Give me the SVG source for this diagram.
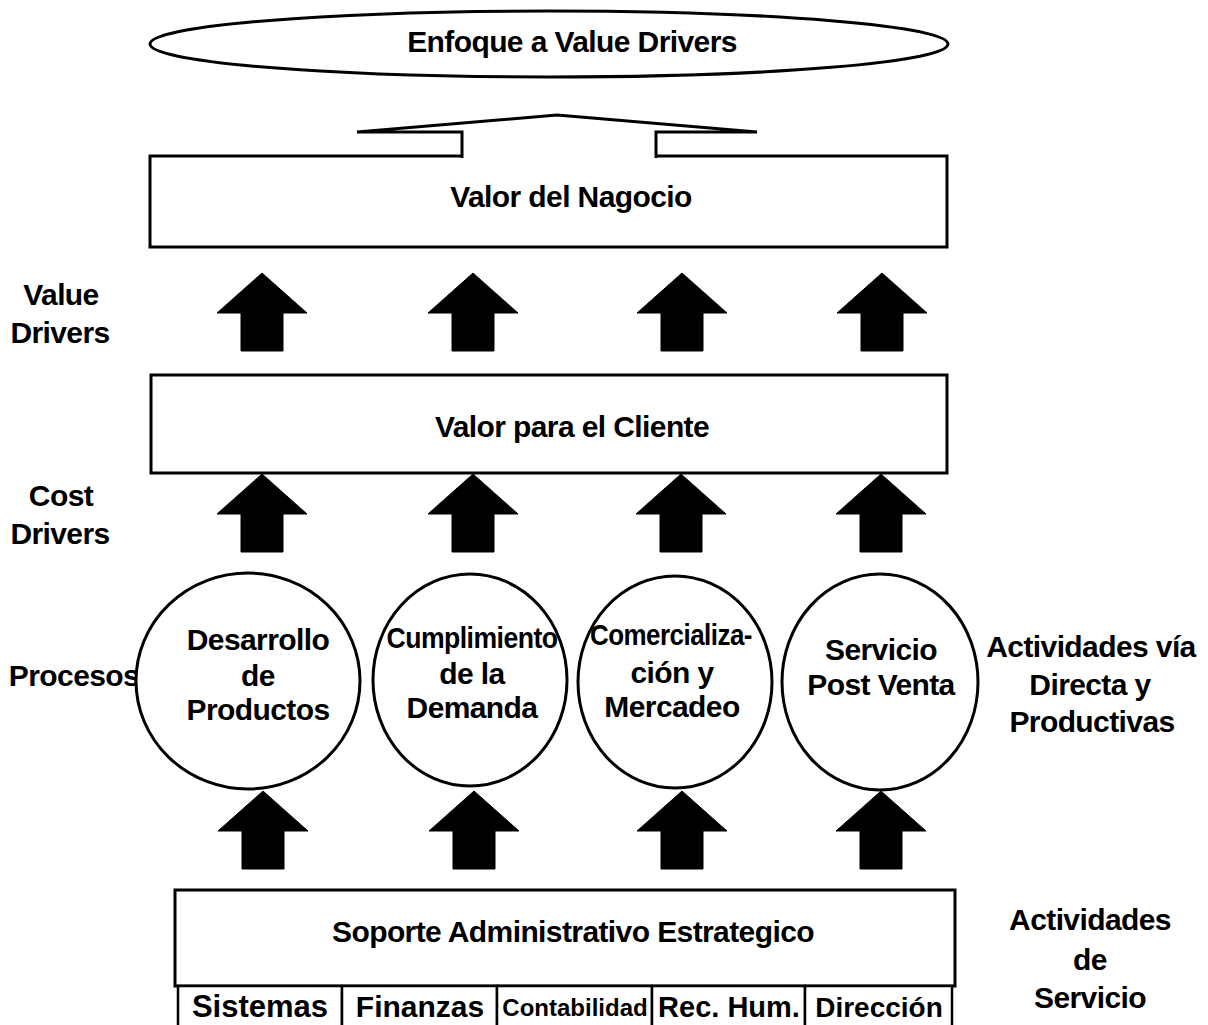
<svg xmlns="http://www.w3.org/2000/svg" xmlns:xlink="http://www.w3.org/1999/xlink" width="1208" height="1025" viewBox="0 0 1208 1025">
  <style>
    .shape { fill: #fff; stroke: #000; stroke-width: 3; }
    .cell { fill: #fff; stroke: #000; stroke-width: 2.5; }
    .t { font-family: "Liberation Sans", Arial, sans-serif; font-weight: bold; font-size: 30px; letter-spacing: -0.6px; fill: #000; text-anchor: middle; }
    .c { letter-spacing: 0; }
    .blk { fill: #000; stroke: #000; stroke-width: 1; stroke-linejoin: round; }
  </style>
  <defs>
    <!-- solid block arrow, tip at the origin -->
    <path id="up" class="blk" d="M0,0 L45,40 L21,40 L21,78 L-21,78 L-21,40 L-45,40 Z"/>
  </defs>

  <rect width="1208" height="1025" fill="#fff"/>

  <!-- side captions -->
  <g id="captions">
    <text class="t" x="61" y="305">Value</text>
    <text class="t" x="60" y="343">Drivers</text>
    <text class="t" x="61" y="506">Cost</text>
    <text class="t" x="60" y="544">Drivers</text>
    <text class="t" x="74" y="686">Procesos</text>
    <text class="t" x="1091" y="657">Actividades vía</text>
    <text class="t" x="1090" y="695">Directa y</text>
    <text class="t" x="1092" y="732">Productivas</text>
    <text class="t" x="1090" y="930">Actividades</text>
    <text class="t" x="1090" y="970">de</text>
    <text class="t" x="1090" y="1008">Servicio</text>
  </g>

  <g id="enfoque">
    <ellipse class="shape" cx="549" cy="44" rx="399" ry="33"/>
    <text class="t" x="572" y="52">Enfoque a Value Drivers</text>
  </g>

  <g id="valor-negocio">
    <rect class="shape" x="150" y="156" width="797" height="91"/>
    <text class="t" x="571" y="207">Valor del Nagocio</text>
  </g>

  <g id="valor-cliente">
    <rect class="shape" x="151" y="375" width="796" height="98"/>
    <text class="t" x="572" y="437">Valor para el Cliente</text>
  </g>

  <g id="desarrollo">
    <ellipse class="shape" cx="248" cy="681" rx="112" ry="108"/>
    <text class="t" x="258" y="650">Desarrollo</text>
    <text class="t" x="258" y="686">de</text>
    <text class="t" x="258" y="720">Productos</text>
  </g>

  <g id="cumplimiento">
    <ellipse class="shape" cx="470" cy="680" rx="97" ry="106"/>
    <text class="t" x="472" y="648" textLength="171" lengthAdjust="spacingAndGlyphs">Cumplimiento</text>
    <text class="t" x="472" y="684">de la</text>
    <text class="t" x="472" y="718">Demanda</text>
  </g>

  <g id="comercializacion">
    <ellipse class="shape" cx="675" cy="682" rx="97" ry="106"/>
    <text class="t" x="671" y="645" textLength="162" lengthAdjust="spacingAndGlyphs">Comercializa-</text>
    <text class="t" x="672" y="683">ción y</text>
    <text class="t" x="672" y="717">Mercadeo</text>
  </g>

  <g id="servicio">
    <ellipse class="shape" cx="880" cy="682" rx="98" ry="108"/>
    <text class="t" x="881" y="660">Servicio</text>
    <text class="t" x="881" y="695">Post Venta</text>
  </g>

  <g id="soporte">
    <rect class="shape" x="175" y="890" width="780" height="96"/>
    <text class="t" x="573" y="942">Soporte Administrativo Estrategico</text>
  </g>

  <g id="areas">
    <rect class="cell" x="178" y="986" width="164" height="42"/>
    <rect class="cell" x="342" y="986" width="155" height="42"/>
    <rect class="cell" x="497" y="986" width="155" height="42"/>
    <rect class="cell" x="652" y="986" width="153" height="42"/>
    <rect class="cell" x="805" y="986" width="147" height="42"/>
    <text class="t c" x="260" y="1017" style="font-size:31px">Sistemas</text>
    <text class="t c" x="420" y="1017" style="font-size:30px">Finanzas</text>
    <text class="t c" x="575" y="1016" style="font-size:24px">Contabilidad</text>
    <text class="t c" x="729" y="1017" style="font-size:29px">Rec. Hum.</text>
    <text class="t c" x="879" y="1017" style="font-size:28px">Dirección</text>
  </g>

  <g id="connectors">
    <!-- wide open arrow from Valor del Nagocio up to the ellipse -->
    <path class="shape" d="M462,158 L462,132 L357,132 L557,115 L757,132 L656,132 L656,158"/>
    <!-- value drivers -->
    <use xlink:href="#up" x="262" y="273"/>
    <use xlink:href="#up" x="473" y="273"/>
    <use xlink:href="#up" x="682" y="273"/>
    <use xlink:href="#up" x="882" y="273"/>
    <!-- cost drivers -->
    <use xlink:href="#up" x="262" y="474"/>
    <use xlink:href="#up" x="473" y="474"/>
    <use xlink:href="#up" x="681" y="474"/>
    <use xlink:href="#up" x="881" y="474"/>
    <!-- support feeding the processes -->
    <use xlink:href="#up" x="263" y="791"/>
    <use xlink:href="#up" x="474" y="791"/>
    <use xlink:href="#up" x="682" y="791"/>
    <use xlink:href="#up" x="881" y="791"/>
  </g>
</svg>
